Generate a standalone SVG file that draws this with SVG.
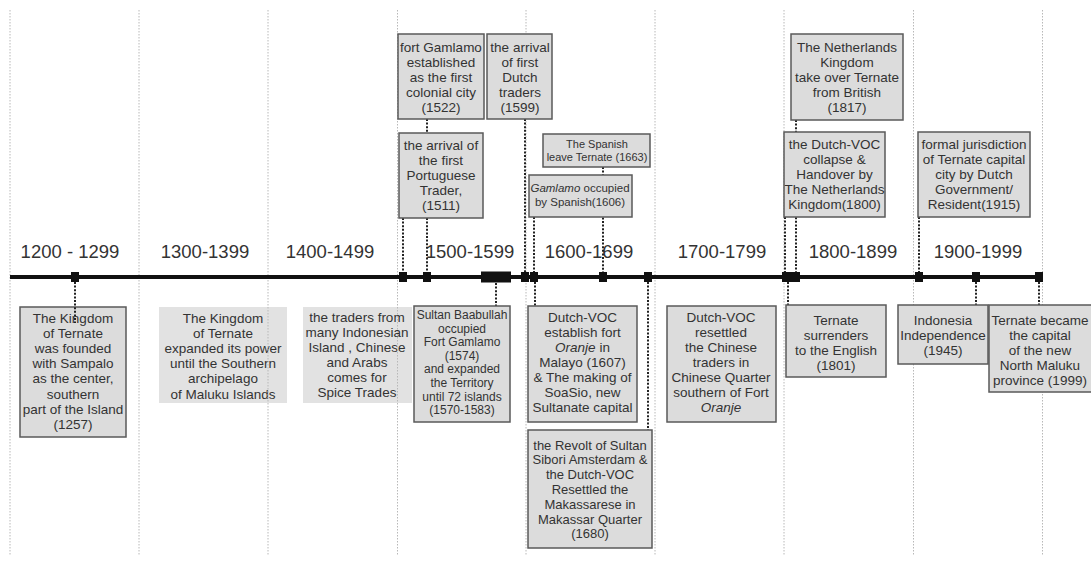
<svg xmlns="http://www.w3.org/2000/svg" width="1091" height="566" viewBox="0 0 1091 566">
<style>
text{font-family:"Liberation Sans",Arial,sans-serif;fill:#333;text-anchor:middle}
.t{font-size:13.5px}
.dec{font-size:18.5px}
.box{fill:#dcdcdc;stroke:#5a5a5a;stroke-width:1.5}
.pl{fill:#e2e2e2;stroke:none}
.grid{stroke:#b8b8b8;stroke-width:1;stroke-dasharray:1.5 1.5;fill:none}
.con{stroke:#222;stroke-width:2;stroke-dasharray:2 1.6;fill:none}
.mk{fill:#111}
.i{font-style:italic}
</style>
<rect width="1091" height="566" fill="#fff"/>
<!-- plain boxes under grid -->
<g id="n1300"><rect class="pl" x="159" y="307" width="128" height="96"/>
<text class="t" x="223" y="322.5"><tspan x="223">The Kingdom</tspan><tspan x="223" dy="15.2">of Ternate</tspan><tspan x="223" dy="15.2">expanded its power</tspan><tspan x="223" dy="15.2">until the Southern</tspan><tspan x="223" dy="15.2">archipelago</tspan><tspan x="223" dy="15.2">of Maluku Islands</tspan></text></g>
<g id="n1400"><rect class="pl" x="303" y="307" width="109" height="96"/>
<text class="t" x="357" y="321.5"><tspan x="357">the traders from</tspan><tspan x="357" dy="15">many Indonesian</tspan><tspan x="357" dy="15">Island , Chinese</tspan><tspan x="357" dy="15">and Arabs</tspan><tspan x="357" dy="15">comes for</tspan><tspan x="357" dy="15">Spice Trades</tspan></text></g>
<g id="grid">
<line class="grid" x1="10" y1="10" x2="10" y2="556"/>
<line class="grid" x1="139" y1="10" x2="139" y2="556"/>
<line class="grid" x1="268" y1="10" x2="268" y2="556"/>
<line class="grid" x1="397.5" y1="10" x2="397.5" y2="556"/>
<line class="grid" x1="526" y1="10" x2="526" y2="556"/>
<line class="grid" x1="655" y1="10" x2="655" y2="556"/>
<line class="grid" x1="784" y1="10" x2="784" y2="556"/>
<line class="grid" x1="913.5" y1="10" x2="913.5" y2="556"/>
<line class="grid" x1="1042.5" y1="10" x2="1042.5" y2="556"/>
</g>
<g id="decades" class="dec">
<text class="dec" x="70" y="258">1200 - 1299</text>
<text class="dec" x="205" y="258">1300-1399</text>
<text class="dec" x="330" y="258">1400-1499</text>
<text class="dec" x="470" y="258">1500-1599</text>
<text class="dec" x="589" y="258">1600-1699</text>
<text class="dec" x="722" y="258">1700-1799</text>
<text class="dec" x="853" y="258">1800-1899</text>
<text class="dec" x="978" y="258">1900-1999</text>
</g>
<g id="connectors">
<line class="con" x1="427" y1="119" x2="427" y2="133"/>
<line class="con" x1="427" y1="218" x2="427" y2="272"/>
<line class="con" x1="403" y1="218" x2="403" y2="272"/>
<line class="con" x1="525" y1="119" x2="525" y2="272"/>
<line class="con" x1="534" y1="217" x2="534" y2="272"/>
<line class="con" x1="603" y1="167" x2="603" y2="272"/>
<line class="con" x1="796" y1="120" x2="796" y2="272"/>
<line class="con" x1="785" y1="217" x2="785" y2="272"/>
<line class="con" x1="919" y1="217" x2="919" y2="272"/>
<line class="con" x1="496" y1="283" x2="496" y2="306"/>
<line class="con" x1="535" y1="282" x2="535" y2="306"/>
<line class="con" x1="648" y1="282" x2="648" y2="430"/>
<line class="con" x1="788" y1="282" x2="788" y2="305"/>
<line class="con" x1="976" y1="282" x2="976" y2="305"/>
<line class="con" x1="1039" y1="282" x2="1039" y2="305"/>
</g>
<g id="timeline">
<line x1="10" y1="277" x2="1043" y2="277" stroke="#111" stroke-width="4"/>
<rect class="mk" x="71" y="272" width="8" height="10"/>
<rect class="mk" x="399" y="272" width="8" height="10"/>
<rect class="mk" x="423" y="272" width="8" height="10"/>
<rect class="mk" x="481" y="271.5" width="30" height="11"/>
<rect class="mk" x="521" y="272" width="8" height="10"/>
<rect class="mk" x="530" y="272" width="8" height="10"/>
<rect class="mk" x="599" y="272" width="8" height="10"/>
<rect class="mk" x="644" y="272" width="8" height="10"/>
<rect class="mk" x="782" y="272" width="18" height="10"/>
<rect class="mk" x="915" y="272" width="8" height="10"/>
<rect class="mk" x="972" y="272" width="8" height="10"/>
<rect class="mk" x="1035" y="272" width="8" height="10"/>
</g>
<g id="n1257"><rect class="box" x="20" y="307" width="106" height="130"/>
<text class="t" x="73" y="322.5"><tspan x="73">The Kingdom</tspan><tspan x="73" dy="15.2">of Ternate</tspan><tspan x="73" dy="15.2">was founded</tspan><tspan x="73" dy="15.2">with Sampalo</tspan><tspan x="73" dy="15.2">as the center,</tspan><tspan x="73" dy="15.2">southern</tspan><tspan x="73" dy="15.2">part of the Island</tspan><tspan x="73" dy="15.2">(1257)</tspan></text>
<line class="con" x1="75" y1="282" x2="75" y2="323"/></g>
<g id="n1522"><rect class="box" x="398" y="34" width="86" height="85"/>
<text class="t" x="441" y="51.5"><tspan x="441">fort Gamlamo</tspan><tspan x="441" dy="15.2">established</tspan><tspan x="441" dy="15.2">as the first</tspan><tspan x="441" dy="15.2">colonial city</tspan><tspan x="441" dy="15.2">(1522)</tspan></text></g>
<g id="n1599"><rect class="box" x="487" y="34" width="65" height="85"/>
<text class="t" x="520" y="51.5"><tspan x="520">the arrival</tspan><tspan x="520" dy="15.2">of first</tspan><tspan x="520" dy="15.2">Dutch</tspan><tspan x="520" dy="15.2">traders</tspan><tspan x="520" dy="15.2">(1599)</tspan></text></g>
<g id="n1511"><rect class="box" x="399" y="133" width="84" height="85"/>
<text class="t" x="441" y="149.5"><tspan x="441">the arrival of</tspan><tspan x="441" dy="15">the first</tspan><tspan x="441" dy="15">Portuguese</tspan><tspan x="441" dy="15">Trader,</tspan><tspan x="441" dy="15">(1511)</tspan></text></g>
<g id="n1663"><rect class="box" x="543" y="134" width="107" height="33"/>
<text x="597" y="147.5" style="font-size:11px"><tspan x="597">The Spanish</tspan><tspan x="597" dy="13">leave Ternate (1663)</tspan></text></g>
<g id="n1606"><rect class="box" x="529" y="175" width="103" height="42"/>
<text x="580" y="192" style="font-size:11.5px"><tspan x="580"><tspan class="i">Gamlamo</tspan> occupied</tspan><tspan x="580" dy="14">by Spanish(1606)</tspan></text></g>
<g id="n1570"><rect class="box" x="414" y="306" width="96" height="116"/>
<text x="462" y="319" style="font-size:12px"><tspan x="462">Sultan Baabullah</tspan><tspan x="462" dy="13.6">occupied</tspan><tspan x="462" dy="13.6">Fort Gamlamo</tspan><tspan x="462" dy="13.6">(1574)</tspan><tspan x="462" dy="13.6">and expanded</tspan><tspan x="462" dy="13.6">the Territory</tspan><tspan x="462" dy="13.6">until 72 islands</tspan><tspan x="462" dy="13.6">(1570-1583)</tspan></text></g>
<g id="n1607"><rect class="box" x="528" y="306" width="109" height="116"/>
<text class="t" x="582.5" y="321.5"><tspan x="582.5">Dutch-VOC</tspan><tspan x="582.5" dy="15">establish fort</tspan><tspan x="582.5" dy="15"><tspan class="i">Oranje</tspan> in</tspan><tspan x="582.5" dy="15">Malayo (1607)</tspan><tspan x="582.5" dy="15">&amp; The making of</tspan><tspan x="582.5" dy="15">SoaSio, new</tspan><tspan x="582.5" dy="15">Sultanate capital</tspan></text></g>
<g id="n1680"><rect class="box" x="528" y="430" width="124" height="118"/>
<text x="590" y="449.5" style="font-size:13px"><tspan x="590">the Revolt of Sultan</tspan><tspan x="590" dy="14.8">Sibori Amsterdam &amp;</tspan><tspan x="590" dy="14.8">the Dutch-VOC</tspan><tspan x="590" dy="14.8">Resettled the</tspan><tspan x="590" dy="14.8">Makassarese in</tspan><tspan x="590" dy="14.8">Makassar Quarter</tspan><tspan x="590" dy="14.8">(1680)</tspan></text></g>
<g id="n1700"><rect class="box" x="667" y="306" width="109" height="116"/>
<text class="t" x="721" y="321.5"><tspan x="721">Dutch-VOC</tspan><tspan x="721" dy="15">resettled</tspan><tspan x="721" dy="15">the Chinese</tspan><tspan x="721" dy="15">traders in</tspan><tspan x="721" dy="15">Chinese Quarter</tspan><tspan x="721" dy="15">southern of Fort</tspan><tspan x="721" dy="15" class="i">Oranje</tspan></text></g>
<g id="n1817"><rect class="box" x="791" y="34" width="112" height="86"/>
<text class="t" x="847" y="51.5"><tspan x="847">The Netherlands</tspan><tspan x="847" dy="15.2">Kingdom</tspan><tspan x="847" dy="15.2">take over Ternate</tspan><tspan x="847" dy="15.2">from British</tspan><tspan x="847" dy="15.2">(1817)</tspan></text></g>
<g id="n1800"><rect class="box" x="784" y="132" width="101" height="85"/>
<text class="t" x="834.5" y="148.5"><tspan x="834.5">the Dutch-VOC</tspan><tspan x="834.5" dy="15">collapse &amp;</tspan><tspan x="834.5" dy="15">Handover by</tspan><tspan x="834.5" dy="15">The Netherlands</tspan><tspan x="834.5" dy="15">Kingdom(1800)</tspan></text></g>
<g id="n1915"><rect class="box" x="918" y="132" width="112" height="85"/>
<text class="t" x="974" y="148.5"><tspan x="974">formal jurisdiction</tspan><tspan x="974" dy="15">of Ternate capital</tspan><tspan x="974" dy="15">city by Dutch</tspan><tspan x="974" dy="15">Government/</tspan><tspan x="974" dy="15">Resident(1915)</tspan></text></g>
<g id="n1801"><rect class="box" x="786" y="305" width="100" height="72"/>
<text class="t" x="836" y="324.5"><tspan x="836">Ternate</tspan><tspan x="836" dy="15">surrenders</tspan><tspan x="836" dy="15">to the English</tspan><tspan x="836" dy="15">(1801)</tspan></text></g>
<g id="n1945"><rect class="box" x="898" y="305" width="90" height="59"/>
<text class="t" x="943" y="324.5"><tspan x="943">Indonesia</tspan><tspan x="943" dy="15">Independence</tspan><tspan x="943" dy="15">(1945)</tspan></text></g>
<g id="n1999"><rect class="box" x="989" y="305" width="104" height="87"/>
<text class="t" x="1040" y="324.5"><tspan x="1040">Ternate became</tspan><tspan x="1040" dy="15">the capital</tspan><tspan x="1040" dy="15">of the new</tspan><tspan x="1040" dy="15">North Maluku</tspan><tspan x="1040" dy="15">province (1999)</tspan></text></g>
</svg>
